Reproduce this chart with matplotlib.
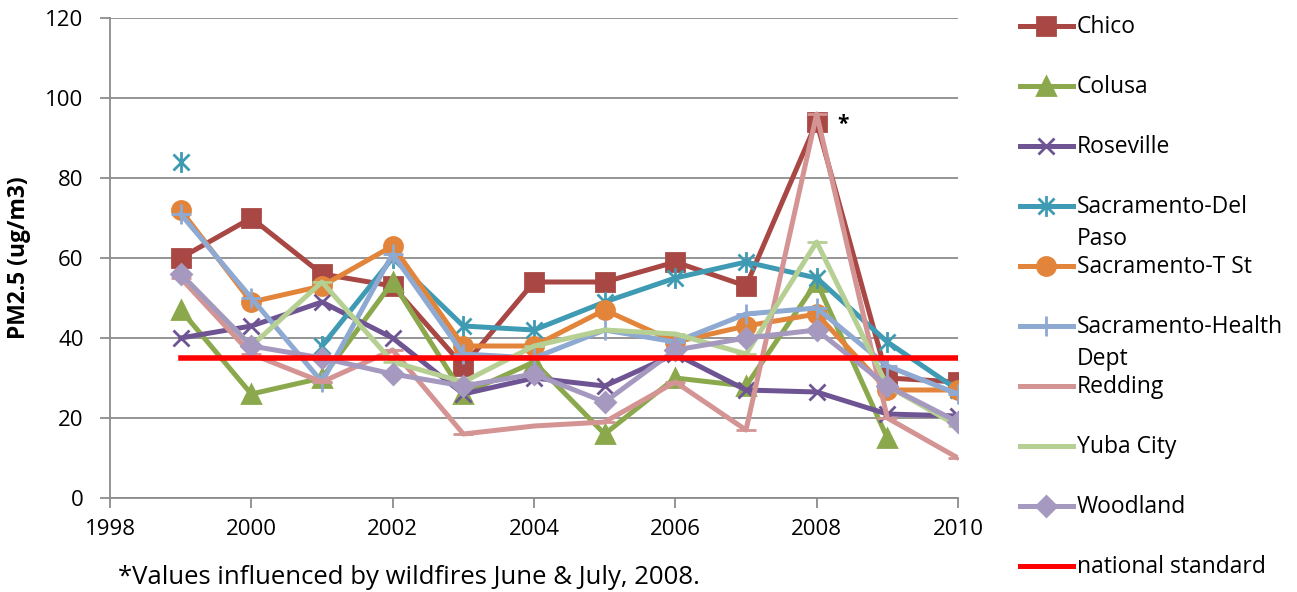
import numpy as np
import matplotlib
matplotlib.use("Agg")
import matplotlib.pyplot as plt
from matplotlib.lines import Line2D
from matplotlib.path import Path

plt.rcParams['font.family'] = ['Open Sans', 'DejaVu Sans']

years = [1999, 2000, 2001, 2002, 2003, 2004, 2005, 2006, 2007, 2008, 2009, 2010]
nan = np.nan

chico = [60, 70, 56, 53, 33, 54, 54, 59, 53, 94, 30, 29]
colusa = [47, 26, 30, 54, 26, 34, 16, 30, 28, 54, 15, nan]
roseville = [40, 43, 49, 40, 26, 30, 28, 36, 27, 26.5, 21, 20.5]
sac_del_paso = [84, nan, 38, 60, 43, 42, 49, 55, 59, 55, 39, 27]
sac_t_st = [72, 49, 53, 63, 38, 38, 47, 39, 43, 46, 27, 27]
sac_health = [71, 50, 29, 61, 36, 35, 42, 39, 46, 47.5, 33, 26]
redding = [55, 36, 29, 37, 16, 18, 19, 29, 17, 96, 20, 10]
yuba_city = [56, 38, 54, 34, 29, 38, 42, 41, 36, 64, 28, 18]
woodland = [56, 38, 35, 31, 28, 31, 24, 37, 40, 42, 28, 19]
national_standard = 35

labels = ["Chico", "Colusa", "Roseville", "Sacramento-Del\nPaso", "Sacramento-T St",
          "Sacramento-Health\nDept", "Redding", "Yuba City", "Woodland", "national standard"]
series = [chico, colusa, roseville, sac_del_paso, sac_t_st, sac_health, redding, yuba_city, woodland]
colors = ["#A84743", "#8BA94C", "#6F5494", "#3E9BB3", "#E2853A", "#8EA9D2",
          "#D49494", "#B6CF92", "#A699C0"]

# excel style asterisk: x with a vertical bar
star = Path([(-1, -1), (1, 1), (-1, 1), (1, -1), (0, -1.3), (0, 1.3)],
            [Path.MOVETO, Path.LINETO, Path.MOVETO, Path.LINETO, Path.MOVETO, Path.LINETO])
markers = ["s", "^", "x", star, "o", "+", "_", "_", "D"]
msizes = [13, 13, 12, 15, 13, 14, 14, 14, 10]

fig = plt.figure(figsize=(12.97, 5.92), dpi=100)
ax = fig.add_axes([110/1297, 1-498/592, 848/1297, 480/592])

for vals, c, m, ms in zip(series, colors, markers, msizes):
    ax.plot(years, vals, color=c, lw=3.6, marker=m, markersize=ms,
            markeredgewidth=2.0, markeredgecolor=c, markerfacecolor=c)
ax.plot(years, [national_standard]*len(years), color="#FF0000", lw=4)

ax.text(2008.38, 93.5, "*", fontsize=15, fontweight='bold', ha='center', va='center')

ax.set_xlim(1998, 2010)
ax.set_ylim(0, 120)
ax.set_xticks(range(1998, 2011, 2))
ax.set_yticks(range(0, 121, 20))
ax.yaxis.grid(True, color="#8C8C8C", lw=1.3)
ax.set_axisbelow(True)
for s in ['top', 'right']:
    ax.spines[s].set_visible(False)
for s in ['left', 'bottom']:
    ax.spines[s].set_color("#8C8C8C")
    ax.spines[s].set_linewidth(1.3)
ax.tick_params(axis='both', which='both', direction='out', length=7, width=1.3,
               color="#8C8C8C", labelsize=16)
ax.tick_params(axis='y', pad=12)
ax.tick_params(axis='x', pad=8)
ax.set_ylabel("PM2.5 (ug/m3)", fontsize=16.5, fontweight='bold', labelpad=10)

# legend drawn by hand so the rows keep even spacing (wrapped labels overlap like excel)
for i, lab in enumerate(labels):
    y = 1 - (26 + 60*i)/592
    if i < len(series):
        c, m, ms = colors[i], markers[i], msizes[i]
    else:
        c, m, ms = "#FF0000", None, 0
    fig.add_artist(Line2D([1020/1297, 1073/1297], [y, y], transform=fig.transFigure,
                          color=c, lw=3.6, clip_on=False))
    if m is not None:
        fig.add_artist(Line2D([1046/1297], [y], transform=fig.transFigure, color=c,
                              marker=m, markersize=ms, markeredgewidth=2.0,
                              markerfacecolor=c, markeredgecolor=c, clip_on=False))
    for k, part in enumerate(lab.split("\n")):
        fig.text(1077/1297, y - (7 + 32*k)/592, part, fontsize=16.5, ha='left',
                 va='baseline')

fig.text(118/1297, 1-578/592, "*Values influenced by wildfires June & July, 2008.",
         fontsize=18.5, ha='left', va='center')

fig.savefig("out.png", dpi=100)
